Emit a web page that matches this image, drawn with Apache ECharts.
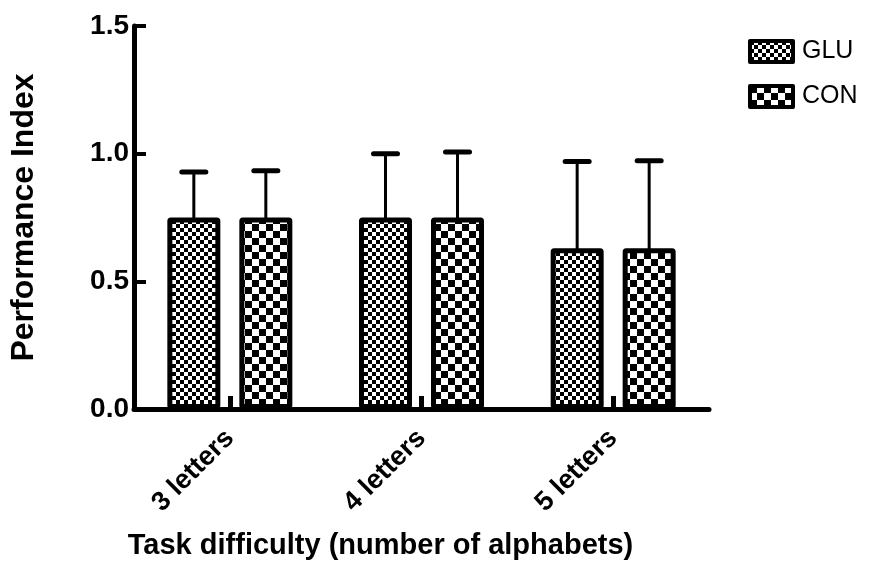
<!DOCTYPE html>
<html>
<head>
<meta charset="utf-8">
<script src="https://cdn.jsdelivr.net/npm/echarts@6/dist/echarts.min.js"></script>
<style>
  html, body { margin: 0; padding: 0; background: #fff; }
  #chart { width: 885px; height: 569px; }
</style>
</head>
<body>
<div id="chart"></div>
<script>
// Performance index by task difficulty, mean with upward SEM bars
const categories = ['3 letters', '4 letters', '5 letters'];
const gluMean = [0.75, 0.75, 0.63];
const gluSem = [0.178, 0.25, 0.339];
const conMean = [0.75, 0.75, 0.63];
const conSem = [0.183, 0.257, 0.342];
const yTicks = [0, 0.5, 1.0, 1.5];

const FONT = '"Liberation Sans", Arial, sans-serif';

// checkerboard fill used for the bars
function checker(cell) {
  const c = document.createElement('canvas');
  c.width = cell * 2;
  c.height = cell * 2;
  const ctx = c.getContext('2d');
  ctx.fillStyle = '#fff';
  ctx.fillRect(0, 0, c.width, c.height);
  ctx.fillStyle = '#000';
  ctx.fillRect(0, 0, cell, cell);
  ctx.fillRect(cell, cell, cell, cell);
  return { image: c, repeat: 'repeat' };
}
const gluFill = checker(4);
const conFill = checker(7);

const BAR_W = 53;
const BAR_GAP = 19;
const OFFSET = (BAR_W + BAR_GAP) / 2;

function errorSeries(name, means, sems, dx) {
  return {
    type: 'custom',
    name: name,
    z: 1,
    silent: true,
    data: means.map((m, i) => [i, m, sems[i]]),
    encode: { x: 0, y: 1 },
    renderItem: function (params, api) {
      const base = api.coord([api.value(0), api.value(1)]);
      const top = api.coord([api.value(0), api.value(1) + api.value(2)]);
      const x = base[0] + dx;
      return {
        type: 'group',
        children: [
          { type: 'line', shape: { x1: x, y1: base[1] + 4, x2: x, y2: top[1] },
            style: { stroke: '#000', lineWidth: 3, lineCap: 'round' } },
          { type: 'line', shape: { x1: x - 12, y1: top[1], x2: x + 12, y2: top[1] },
            style: { stroke: '#000', lineWidth: 5, lineCap: 'round' } }
        ]
      };
    }
  };
}

const chart = echarts.init(document.getElementById('chart'), null, { renderer: 'canvas' });
chart.setOption({
  animation: false,
  backgroundColor: '#fff',
  grid: { left: 133, right: 176, top: 26, bottom: 160 },
  legend: {
    data: ['GLU', 'CON'],
    orient: 'vertical',
    left: 748,
    top: 39,
    padding: 0,
    itemWidth: 43,
    itemHeight: 21,
    itemGap: 20,
    icon: 'rect',
    itemStyle: { borderColor: '#000', borderWidth: 4 },
    textStyle: { fontFamily: FONT, fontSize: 25, color: '#000', padding: [0, 0, 0, 4] }
  },
  xAxis: {
    type: 'category',
    data: categories,
    name: 'Task difficulty (number of alphabets)',
    nameLocation: 'middle',
    nameGap: 122,
    nameTextStyle: { fontFamily: FONT, fontSize: 29, fontWeight: 'bold', color: '#000', padding: [0, 82, 0, 0] },
    axisLine: { lineStyle: { color: '#000', width: 5 } },
    axisTick: { show: true, alignWithLabel: true, inside: true, length: 13, lineStyle: { color: '#000', width: 5 } },
    axisLabel: { rotate: 45, margin: 25, fontFamily: FONT, fontSize: 27, fontWeight: 'bold', color: '#000' },
    splitLine: { show: false }
  },
  yAxis: {
    type: 'value',
    min: 0,
    max: 1.5,
    interval: 0.5,
    name: 'Performance Index',
    nameLocation: 'middle',
    nameGap: 94,
    nameTextStyle: { fontFamily: FONT, fontSize: 32, fontWeight: 'bold', color: '#000' },
    axisLine: { show: true, lineStyle: { color: '#000', width: 5 } },
    axisTick: { show: true, inside: true, length: 12, lineStyle: { color: '#000', width: 4 } },
    axisLabel: {
      margin: 5, fontFamily: FONT, fontSize: 28, fontWeight: 'bold', color: '#000',
      formatter: v => yTicks.includes(v) ? v.toFixed(1) : ''
    },
    splitLine: { show: false }
  },
  series: [
    errorSeries('GLU err', gluMean, gluSem, -OFFSET),
    errorSeries('CON err', conMean, conSem, OFFSET),
    {
      type: 'bar',
      name: 'GLU',
      data: gluMean,
      barWidth: BAR_W,
      barGap: (BAR_GAP / BAR_W * 100) + '%',
      z: 2,
      itemStyle: { color: gluFill, borderColor: '#000', borderWidth: 5, borderJoin: 'round', borderRadius: 1 }
    },
    {
      type: 'bar',
      name: 'CON',
      data: conMean,
      barWidth: BAR_W,
      barGap: (BAR_GAP / BAR_W * 100) + '%',
      z: 2,
      itemStyle: { color: conFill, borderColor: '#000', borderWidth: 5, borderJoin: 'round', borderRadius: 1 }
    }
  ]
});
</script>
</body>
</html>
